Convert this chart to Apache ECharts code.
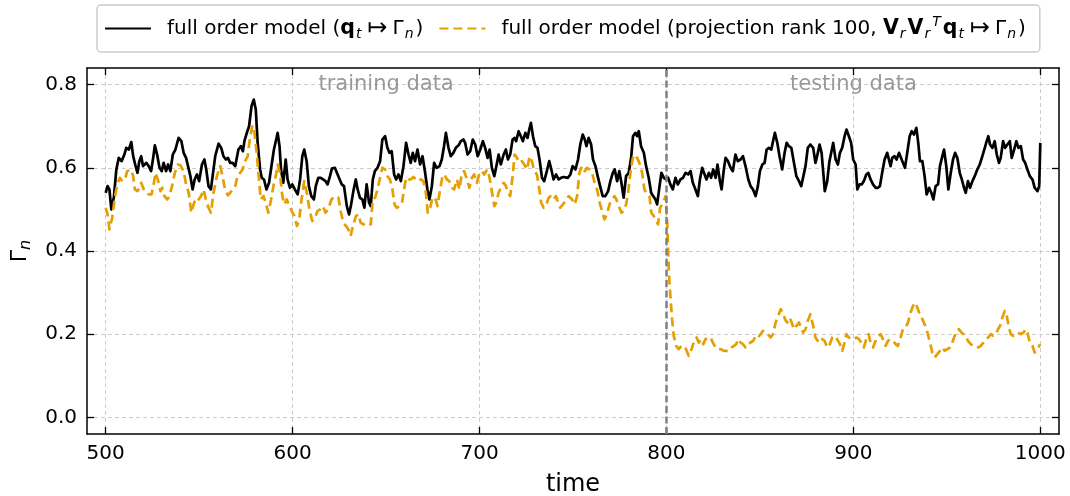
<!DOCTYPE html>
<html>
<head>
<meta charset="utf-8">
<title>Gamma_n time series</title>
<script src="https://cdn.jsdelivr.net/npm/echarts@6.0.0/dist/echarts.min.js"></script>
<style>
  html, body { margin: 0; padding: 0; background: #fff; }
  #chart { width: 1070px; height: 496px; }
</style>
</head>
<body>
<div id="chart"></div>
<script>
// Full order model output Gamma_n over time
const fomTime = [
  500, 501, 502, 503, 504.4, 505.7, 507, 508.5, 510, 511, 512.4, 513.7, 514.7, 516, 517, 518, 519, 520, 521.7, 523,
  524.3, 525.4, 526.3, 527.5, 528.8, 530, 531, 532.3, 533.4, 534.6, 535.9, 537.3, 539, 540.5, 541.7, 543, 544, 545.3, 546.5, 547.6,
  548.8, 550, 551.5, 552.8, 553.8, 555, 556.3, 557.2, 558.6, 560.4, 561.8, 563, 564.3, 565.4, 566.6, 567.9, 569.3, 570, 571, 572.3,
  573.4, 574.2, 575.5, 576.7, 578, 579.2, 580.3, 581.3, 582.6, 583.5, 584.7, 586, 587.4, 588.8, 590, 591, 592, 593, 593.8, 595,
  596.3, 597.3, 598.6, 599.8, 601.2, 602.7, 604, 605.2, 606.2, 607.5, 608.7, 610, 611.4, 612.4, 613.7, 615, 616.3, 617.6, 618.7, 620,
  621, 622.6, 623.6, 624.8, 626.3, 627.5, 629, 630.2, 631.3, 632.5, 633.8, 634.8, 636, 637.3, 638.4, 639.6, 640.9, 641.8, 642.9, 644,
  645.4, 646.8, 648, 649.5, 650.7, 651.8, 653, 654.3, 655.4, 656.6, 657.9, 659.3, 660.7, 662, 663.2, 664.3, 665.5, 666.8, 668.2, 669.5,
  670.9, 672.1, 673.2, 674.5, 675.7, 677, 678.6, 679.8, 681, 682, 683.4, 684.6, 686, 687.3, 688.8, 690, 691.4, 692.3, 693.6, 695,
  696.4, 697.7, 699, 700.4, 701.8, 703, 704.3, 705.4, 706.6, 707.9, 709, 710.2, 711.4, 712.9, 714.1, 715.2, 716.4, 717.7, 718.8, 719.6,
  720.9, 722.1, 723.2, 724.5, 725.7, 726.6, 727.5, 728.6, 729.8, 731, 732.1, 733.4, 734.6, 736, 737.3, 738.4, 739.6, 741, 742.3, 743.6,
  745, 747.3, 748.6, 749.8, 751.3, 752.7, 753.9, 755.2, 756.3, 757.2, 758.4, 759.7, 760.7, 762, 763.2, 764.5, 765.9, 767.3, 768.8, 770,
  771.3, 772.3, 773.6, 774.8, 775.9, 777.1, 778.4, 779.8, 781.1, 782.1, 783.4, 784.3, 785.2, 786.4, 787.9, 789.1, 790.5, 791.8, 792.9, 794.1,
  795, 796.3, 797.3, 798.6, 799.8, 800.9, 802.1, 803.4, 804.8, 806.1, 807.5, 808.8, 810.2, 811.6, 812.9, 814.1, 815.5, 816.8, 817.9, 819.1,
  820.4, 821.4, 822.7, 823.9, 825, 826.3, 827.3, 828.6, 829.5, 830.7, 831.6, 832.9, 834.3, 835.5, 836.9, 838.2, 839.6, 840.9, 842.3, 843.8,
  845, 846.3, 847.7, 848.9, 850, 851.3, 852.5, 853.6, 854.8, 856.1, 857, 858, 859.3, 860.5, 861.9, 863.2, 864.3, 865.5, 866.8, 868.2,
  869.5, 870.9, 872.1, 874.4, 875.6, 877, 878.5, 879.7, 880.6, 881.9, 883, 884.2, 884.7, 886, 887.2, 888.3, 889.2, 890.5, 891.7, 892.8,
  894, 895.3, 896.3, 897.6, 898.8, 899.9, 901.2, 902.1, 903.3, 904.4, 905.6, 906.9, 908, 909.2, 910.5, 911.9, 913.1, 914.2, 915.4, 916.7,
  918.1, 919, 919.9, 920.8, 922, 923.1, 924.4, 925.3, 926.5, 927.6, 928.8, 930.1, 931.2, 932.4, 933.7, 934.7, 935.6, 936.9, 938.1, 939.2,
  940.5, 941.7, 942.8, 944, 945.3, 946.3, 947.6, 948.5, 949.7, 950.8, 952.1, 953.3, 954.4, 955.6, 956.9, 958, 959.2, 960.1, 961.3, 962.4,
  963.7, 964.9, 966.3, 967.6, 969, 970.3, 971.3, 972.2, 973.1, 974.4, 975.6, 976.7, 977.9, 978.8, 980.1, 981.2, 982.4, 983.7, 984.7, 986,
  987.2, 988.3, 989.6, 990.8, 991.9, 993.1, 994.4, 995.8, 997, 998.5, 999.4, 1000
];
const fomGamma = [
  0.54, 0.556, 0.548, 0.50, 0.53, 0.596, 0.624, 0.616, 0.632, 0.648, 0.644, 0.662, 0.628, 0.604, 0.588, 0.616, 0.628, 0.604, 0.612, 0.604,
  0.592, 0.624, 0.654, 0.632, 0.60, 0.592, 0.612, 0.592, 0.608, 0.592, 0.632, 0.644, 0.672, 0.664, 0.636, 0.624, 0.628, 0.58, 0.548, 0.572,
  0.584, 0.568, 0.608, 0.62, 0.596, 0.556, 0.548, 0.58, 0.628, 0.658, 0.648, 0.628, 0.62, 0.624, 0.612, 0.612, 0.604, 0.60, 0.644, 0.652,
  0.64, 0.664, 0.684, 0.70, 0.748, 0.764, 0.74, 0.66, 0.596, 0.576, 0.572, 0.548, 0.564, 0.608, 0.644, 0.664, 0.684, 0.652, 0.596, 0.564,
  0.62, 0.572, 0.552, 0.56, 0.548, 0.536, 0.572, 0.628, 0.644, 0.616, 0.556, 0.532, 0.524, 0.556, 0.576, 0.576, 0.572, 0.568, 0.56, 0.58,
  0.598, 0.60, 0.596, 0.576, 0.56, 0.556, 0.508, 0.488, 0.512, 0.544, 0.572, 0.548, 0.528, 0.524, 0.504, 0.56, 0.516, 0.508, 0.572, 0.592,
  0.60, 0.616, 0.668, 0.676, 0.648, 0.636, 0.64, 0.584, 0.572, 0.584, 0.568, 0.604, 0.66, 0.632, 0.612, 0.636, 0.616, 0.644, 0.608, 0.628,
  0.588, 0.548, 0.524, 0.556, 0.612, 0.60, 0.604, 0.62, 0.652, 0.684, 0.648, 0.628, 0.636, 0.648, 0.654, 0.664, 0.668, 0.66, 0.632, 0.64,
  0.668, 0.656, 0.628, 0.644, 0.664, 0.648, 0.624, 0.644, 0.60, 0.58, 0.604, 0.632, 0.608, 0.632, 0.644, 0.62, 0.632, 0.668, 0.672, 0.664,
  0.688, 0.676, 0.664, 0.684, 0.672, 0.692, 0.708, 0.676, 0.652, 0.648, 0.62, 0.576, 0.568, 0.592, 0.616, 0.596, 0.572, 0.584, 0.572, 0.576,
  0.578, 0.576, 0.584, 0.604, 0.596, 0.62, 0.656, 0.68, 0.668, 0.652, 0.672, 0.656, 0.62, 0.604, 0.58, 0.556, 0.532, 0.532, 0.544, 0.568,
  0.588, 0.596, 0.568, 0.592, 0.564, 0.528, 0.58, 0.588, 0.624, 0.676, 0.684, 0.676, 0.688, 0.652, 0.636, 0.604, 0.576, 0.54, 0.532, 0.524,
  0.512, 0.556, 0.588, 0.576, 0.572, 0.576, 0.56, 0.548, 0.576, 0.56, 0.572, 0.576, 0.588, 0.584, 0.592, 0.564, 0.548, 0.532, 0.572, 0.60,
  0.584, 0.572, 0.588, 0.576, 0.596, 0.576, 0.608, 0.568, 0.548, 0.596, 0.624, 0.616, 0.60, 0.592, 0.632, 0.616, 0.62, 0.628, 0.604, 0.572,
  0.556, 0.548, 0.532, 0.556, 0.592, 0.608, 0.612, 0.644, 0.648, 0.644, 0.664, 0.684, 0.66, 0.628, 0.596, 0.636, 0.66, 0.652, 0.648, 0.612,
  0.58, 0.568, 0.556, 0.604, 0.648, 0.656, 0.648, 0.612, 0.628, 0.656, 0.636, 0.572, 0.544, 0.568, 0.616, 0.64, 0.66, 0.62, 0.608, 0.636,
  0.648, 0.676, 0.692, 0.676, 0.66, 0.62, 0.608, 0.548, 0.56, 0.56, 0.568, 0.584, 0.588, 0.572, 0.56, 0.552, 0.552, 0.556, 0.588, 0.62,
  0.636, 0.636, 0.604, 0.624, 0.628, 0.62, 0.636, 0.632, 0.612, 0.60, 0.636, 0.676, 0.688, 0.68, 0.696, 0.66, 0.616, 0.616, 0.58, 0.536,
  0.552, 0.54, 0.524, 0.556, 0.56, 0.604, 0.628, 0.644, 0.604, 0.548, 0.588, 0.62, 0.636, 0.624, 0.588, 0.572, 0.552, 0.54, 0.568, 0.552,
  0.568, 0.58, 0.596, 0.608, 0.628, 0.648, 0.664, 0.676, 0.656, 0.648, 0.664, 0.632, 0.612, 0.624, 0.664, 0.648, 0.656, 0.664, 0.624, 0.644,
  0.664, 0.648, 0.652, 0.62, 0.612, 0.596, 0.58, 0.572, 0.552, 0.544, 0.556, 0.66
];

// Projected (rank 100) full order model output
const projTime = [
  500, 501, 502, 503.5, 505, 506.2, 507.5, 509, 510.3, 511.5, 513.3, 514.6, 515.6, 517, 518, 519, 520.4, 521.7, 523, 524.5,
  525.8, 526.6, 527.9, 529.3, 530.2, 531.4, 532.9, 534.1, 535.5, 537, 538.7, 540, 541.7, 543, 544.4, 545.8, 547, 548.3, 549.7, 551,
  552.4, 553.6, 555, 556.3, 557.7, 559.5, 561.3, 562.5, 564, 565.4, 566.6, 568, 569.3, 570.7, 572, 573.2, 574.6, 576, 577.3, 578.5,
  579.6, 580.8, 582, 583, 584.4, 585.6, 587, 588.5, 589.7, 591, 592, 593.2, 594.5, 595.6, 596.8, 598, 599.5, 601, 602.3, 603.4,
  604.8, 606.2, 607.6, 609, 610.5, 612, 613.3, 614.7, 616.2, 617.6, 619, 620.8, 622.6, 624.5, 625.7, 627.1, 628.6, 629.8, 631, 632.5,
  633.9, 635.2, 636.4, 637.9, 639.3, 640.5, 641.8, 642.9, 644.1, 645.4, 646.8, 648, 649.5, 650.7, 652.1, 653.4, 654.5, 655.7, 657.1, 658.4,
  659.6, 660.7, 662, 663.2, 664.6, 666, 667.3, 668.6, 670, 671.3, 672.3, 673.6, 674.8, 676.3, 677.5, 678.9, 680.2, 681.3, 682.5, 683.8,
  685.2, 686.4, 687.9, 689.3, 690.5, 691.8, 693.2, 694.6, 695.9, 697.1, 698.6, 700, 701.3, 702.5, 704, 705.2, 706.4, 707.9, 708.9, 710.2,
  711.4, 712.9, 714.1, 715.2, 716.4, 717.7, 718.8, 720, 721.3, 722.7, 723.9, 725.4, 726.8, 728, 729.3, 730.7, 732, 733, 734.3, 735.7,
  737, 738.2, 739.6, 740.9, 742.1, 743.2, 744.6, 746, 747.7, 749.5, 750.9, 752.2, 753.4, 754.8, 756.3, 757.5, 758.8, 760.2, 761.6, 762.9,
  764.3, 765.5, 766.8, 768.2, 769.5, 770.9, 772.2, 773.2, 774.5, 775.9, 777.1, 778.4, 779.5, 780.7, 782, 783, 784.3, 785.5, 787, 788.2,
  789.6, 790.9, 791.9, 793.2, 794.5, 795.5, 796.6, 797.7, 798.6, 799.5, 800.4, 801.3, 802.1, 803, 803.9, 805.2, 806.6, 808, 809.3, 810.5,
  811.9, 813.4, 814.6, 816.1, 817.3, 818.6, 819.7, 820.9, 822.3, 823.6, 824.8, 826.3, 827.7, 829.1, 830.7, 832.1, 833.4, 834.8, 836.1, 837.3,
  838.4, 839.6, 840.9, 842.3, 843.8, 845, 846.4, 847.7, 848.9, 850.4, 851.6, 853, 854.3, 855.7, 857, 858.4, 859.8, 861.1, 862.3, 863.4,
  864.6, 865.9, 867, 868.2, 869.5, 870.9, 873.1, 874.4, 875.6, 877, 878.5, 879.7, 881, 882.1, 883.3, 884.6, 886, 887.4, 888.7, 889.9,
  891.3, 892.8, 894, 895.3, 896.3, 897.6, 898.8, 900.3, 901.7, 903, 904.2, 905.6, 906.9, 908.1, 909.2, 910.5, 911.9, 913.3, 914.6, 915.8,
  917.2, 918.5, 919.9, 921.2, 922.6, 923.8, 925.3, 926.5, 927.9, 929.2, 930.6, 931.9, 933, 934.2, 935.5, 936.9, 938.1, 939.6, 941, 942.2,
  943.5, 944.9, 946.3, 947.6, 948.8, 950.3, 951.7, 952.9, 954.2, 955.3, 956.5, 957.8, 958.8, 960.1, 961.3, 962.8, 964.2, 965.5, 966.9, 968.1,
  969.6, 970.8, 972.1, 973.5, 974.9, 976.2, 977.4, 978.5, 979.7, 981, 982.1, 983, 984.2, 985.5, 986.9, 988.1, 989.6, 991, 992.2, 993.1,
  994.4, 995.8, 997, 998.5, 999.9
];
const projGamma = [
  0.504, 0.488, 0.452, 0.48, 0.532, 0.56, 0.576, 0.568, 0.572, 0.592, 0.596, 0.582, 0.548, 0.544, 0.552, 0.564, 0.548, 0.54, 0.536, 0.536,
  0.564, 0.588, 0.572, 0.544, 0.552, 0.532, 0.524, 0.532, 0.556, 0.588, 0.608, 0.606, 0.592, 0.56, 0.54, 0.492, 0.512, 0.528, 0.524, 0.532,
  0.548, 0.524, 0.504, 0.492, 0.54, 0.58, 0.604, 0.58, 0.544, 0.534, 0.54, 0.548, 0.556, 0.584, 0.588, 0.596, 0.616, 0.628, 0.676, 0.702,
  0.684, 0.636, 0.572, 0.524, 0.532, 0.516, 0.492, 0.524, 0.556, 0.58, 0.608, 0.588, 0.532, 0.512, 0.524, 0.512, 0.496, 0.484, 0.46, 0.472,
  0.524, 0.568, 0.54, 0.50, 0.472, 0.48, 0.496, 0.50, 0.508, 0.492, 0.50, 0.524, 0.532, 0.528, 0.496, 0.468, 0.46, 0.452, 0.436, 0.464,
  0.484, 0.488, 0.468, 0.464, 0.468, 0.468, 0.464, 0.524, 0.528, 0.548, 0.576, 0.60, 0.596, 0.58, 0.572, 0.548, 0.512, 0.504, 0.508, 0.512,
  0.548, 0.576, 0.572, 0.572, 0.578, 0.572, 0.568, 0.572, 0.568, 0.54, 0.492, 0.504, 0.528, 0.528, 0.508, 0.548, 0.58, 0.584, 0.572, 0.568,
  0.552, 0.548, 0.572, 0.548, 0.588, 0.592, 0.572, 0.552, 0.576, 0.584, 0.564, 0.588, 0.592, 0.584, 0.596, 0.58, 0.548, 0.508, 0.516, 0.54,
  0.552, 0.564, 0.556, 0.54, 0.532, 0.58, 0.632, 0.624, 0.612, 0.616, 0.608, 0.596, 0.628, 0.616, 0.592, 0.584, 0.548, 0.516, 0.504, 0.512,
  0.528, 0.532, 0.524, 0.532, 0.516, 0.504, 0.512, 0.52, 0.532, 0.524, 0.512, 0.532, 0.588, 0.604, 0.592, 0.60, 0.596, 0.588, 0.564, 0.548,
  0.516, 0.496, 0.476, 0.488, 0.512, 0.524, 0.532, 0.524, 0.508, 0.492, 0.496, 0.512, 0.54, 0.588, 0.624, 0.632, 0.624, 0.612, 0.588, 0.548,
  0.536, 0.532, 0.492, 0.484, 0.472, 0.464, 0.504, 0.512, 0.52, 0.532, 0.468, 0.348, 0.292, 0.236, 0.196, 0.172, 0.164, 0.172, 0.172, 0.164,
  0.148, 0.164, 0.18, 0.192, 0.18, 0.188, 0.176, 0.188, 0.192, 0.192, 0.18, 0.168, 0.164, 0.164, 0.16, 0.16, 0.16, 0.168, 0.172, 0.176,
  0.188, 0.18, 0.176, 0.168, 0.176, 0.18, 0.184, 0.196, 0.192, 0.20, 0.208, 0.204, 0.20, 0.192, 0.20, 0.228, 0.244, 0.26, 0.252, 0.236,
  0.228, 0.24, 0.228, 0.212, 0.22, 0.228, 0.204, 0.212, 0.232, 0.248, 0.22, 0.192, 0.184, 0.18, 0.188, 0.184, 0.168, 0.176, 0.192, 0.196,
  0.188, 0.176, 0.16, 0.18, 0.20, 0.192, 0.188, 0.188, 0.192, 0.188, 0.18, 0.168, 0.188, 0.20, 0.18, 0.168, 0.184, 0.196, 0.20, 0.188,
  0.172, 0.184, 0.188, 0.184, 0.176, 0.172, 0.192, 0.212, 0.216, 0.228, 0.252, 0.268, 0.276, 0.264, 0.248, 0.236, 0.224, 0.204, 0.18, 0.156,
  0.144, 0.152, 0.16, 0.168, 0.16, 0.164, 0.168, 0.18, 0.196, 0.208, 0.212, 0.204, 0.208, 0.196, 0.184, 0.176, 0.172, 0.172, 0.168, 0.172,
  0.18, 0.188, 0.192, 0.20, 0.196, 0.20, 0.212, 0.22, 0.24, 0.256, 0.244, 0.22, 0.20, 0.196, 0.20, 0.204, 0.20, 0.204, 0.212, 0.204,
  0.18, 0.172, 0.156, 0.164, 0.176
];

const xTicks = [500, 600, 700, 800, 900, 1000];
const yTicks = [0.0, 0.2, 0.4, 0.6, 0.8];
const splitTime = 800;
const regionNames = ['training data', 'testing data'];
const regionTime = [650, 900];
const regionGamma = [0.8, 0.8];

const FONT = "'DejaVu Sans', sans-serif";
const zip = (xs, ys) => xs.map((x, i) => [x, ys[i]]);

const chart = echarts.init(document.getElementById('chart'), null, { renderer: 'canvas' });

// legend labels with math-style fragments (bold vectors, italic sub/superscripts)
const legendText = {
  fom: '{gap|}full order model ({b|q}{sub|t}{arr|↦}Γ{sub|n})',
  proj: '{gap|}full order model (projection rank 100, {b|V}{sub|r}{b|V}{sub|r}{sup|T}{b|q}{sub|t}{arr|↦}Γ{sub|n})'
};

const frameTick = {
  show: true, inside: true, length: 7,
  lineStyle: { color: '#000', width: 1.3 }
};

chart.setOption({
  animation: false,
  backgroundColor: '#fff',
  textStyle: { fontFamily: FONT },
  grid: { left: 87, right: 11, top: 68, bottom: 62, containLabel: false, outerBoundsMode: 'none' },
  legend: {
    show: true,
    data: ['fom', 'proj'],
    left: 97, top: 5,
    orient: 'horizontal',
    itemWidth: 46, itemHeight: 14, itemGap: 15,
    padding: [10.5, 14, 10.5, 7],
    borderColor: '#cccccc', borderWidth: 1.5, borderRadius: 4,
    backgroundColor: '#fff',
    selectedMode: false,
    itemStyle: { opacity: 0, borderWidth: 0 },
    formatter: name => legendText[name],
    textStyle: {
      fontFamily: FONT, fontSize: 20, color: '#000', lineHeight: 26,
      rich: {
        gap: { width: 11 },
        b: { fontFamily: FONT, fontSize: 20.5, fontWeight: 'bold', color: '#000' },
        sub: { fontFamily: FONT, fontSize: 14, fontStyle: 'italic', color: '#000', lineHeight: 12, verticalAlign: 'bottom', padding: [0, 2, 0, 1] },
        sup: { fontFamily: FONT, fontSize: 14, fontStyle: 'italic', color: '#000', lineHeight: 14, verticalAlign: 'top', padding: [0, 2, 0, 0] },
        arr: { fontFamily: FONT, fontSize: 24, color: '#000', lineHeight: 26, padding: [0, 5, 0, 4] }
      }
    }
  },
  xAxis: [
    {
      type: 'value', position: 'bottom', min: 490, max: 1010,
      name: 'time', nameLocation: 'middle', nameGap: 39,
      nameTextStyle: { fontFamily: FONT, fontSize: 24, color: '#000' },
      axisLine: { show: true, onZero: false, lineStyle: { color: '#000', width: 1.5 } },
      axisTick: Object.assign({ customValues: xTicks }, frameTick),
      axisLabel: { customValues: xTicks, color: '#000', fontFamily: FONT, fontSize: 20, margin: 10, formatter: v => String(v) },
      splitLine: { show: true, lineStyle: { color: '#cccccc', width: 1, type: [4, 3] } }
    },
    {
      type: 'value', position: 'top', min: 490, max: 1010,
      axisLine: { show: true, onZero: false, lineStyle: { color: '#000', width: 1.5 } },
      axisTick: Object.assign({ customValues: xTicks }, frameTick),
      axisLabel: { show: false },
      splitLine: { show: false }
    }
  ],
  yAxis: [
    {
      type: 'value', position: 'left', min: -0.04, max: 0.84,
      name: '{g|Γ}{n|n}', nameLocation: 'middle', nameGap: 50, nameRotate: 90,
      nameTextStyle: {
        fontFamily: FONT, fontSize: 22, color: '#000', lineHeight: 28,
        rich: {
          g: { fontFamily: FONT, fontSize: 22, color: '#000', lineHeight: 28 },
          n: { fontFamily: FONT, fontSize: 16, fontStyle: 'italic', color: '#000', lineHeight: 16, verticalAlign: 'bottom' }
        }
      },
      axisLine: { show: true, onZero: false, lineStyle: { color: '#000', width: 1.5 } },
      axisTick: Object.assign({ customValues: yTicks }, frameTick),
      axisLabel: {
        customValues: yTicks, color: '#000', fontFamily: FONT, fontSize: 20, margin: 10,
        formatter: v => v.toFixed(1)
      },
      splitLine: { show: true, lineStyle: { color: '#cccccc', width: 1, type: [4, 3] } }
    },
    {
      type: 'value', position: 'right', min: -0.04, max: 0.84,
      axisLine: { show: true, onZero: false, lineStyle: { color: '#000', width: 1.5 } },
      axisTick: Object.assign({ customValues: yTicks }, frameTick),
      axisLabel: { show: false },
      splitLine: { show: false }
    }
  ],
  series: [
    {
      name: 'fom', type: 'line', xAxisIndex: 0, yAxisIndex: 0,
      data: zip(fomTime, fomGamma),
      symbol: 'none', showSymbol: false,
      lineStyle: { color: '#000000', width: 2.7, join: 'round' },
      itemStyle: { color: '#000000' },
      markLine: {
        silent: true, symbol: ['none', 'none'],
        label: { show: false },
        lineStyle: { color: '#808080', width: 2.5, type: [7, 3.5] },
        data: [{ xAxis: splitTime }]
      },
      z: 3
    },
    {
      name: 'proj', type: 'line', xAxisIndex: 0, yAxisIndex: 0,
      data: zip(projTime, projGamma),
      symbol: 'none', showSymbol: false,
      lineStyle: { color: '#e69f00', width: 2.7, type: [9, 5], join: 'round' },
      itemStyle: { color: '#e69f00' },
      z: 4
    },
    {
      name: 'regions', type: 'scatter', xAxisIndex: 0, yAxisIndex: 0,
      data: regionNames.map((n, i) => ({ value: [regionTime[i], regionGamma[i]], name: n })),
      symbolSize: 0, silent: true,
      label: {
        show: true, position: 'inside', formatter: p => p.name,
        fontFamily: FONT, fontSize: 21, color: '#808080'
      },
      z: 2
    }
  ]
});
</script>
</body>
</html>
